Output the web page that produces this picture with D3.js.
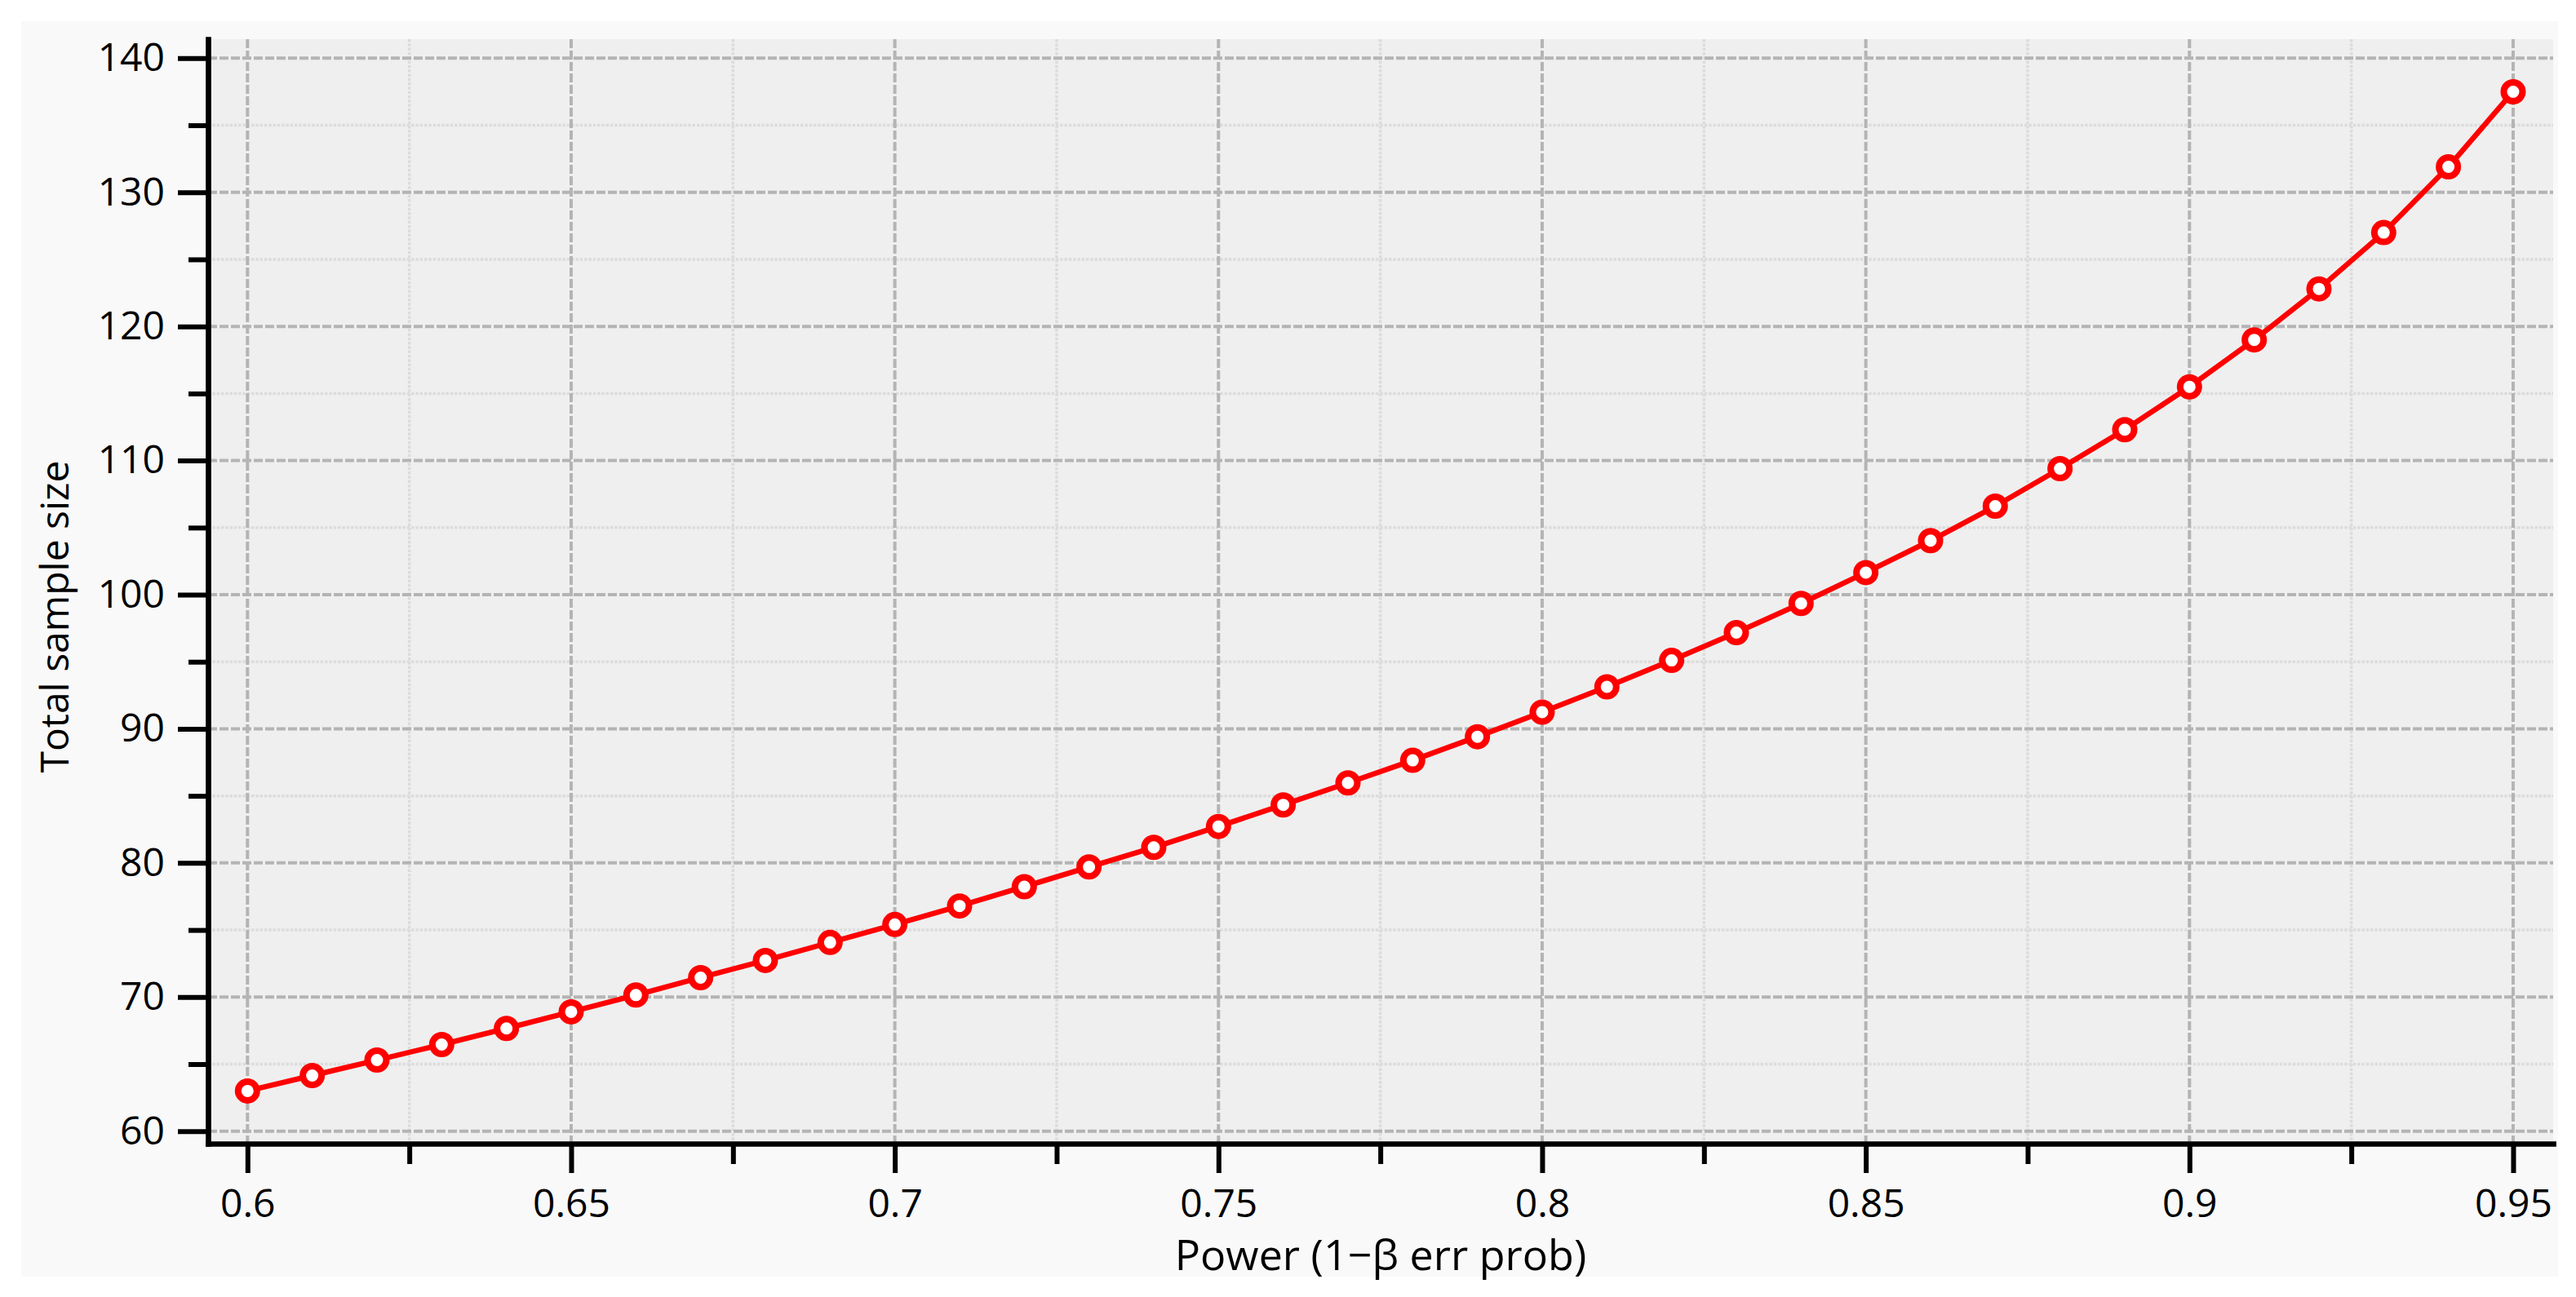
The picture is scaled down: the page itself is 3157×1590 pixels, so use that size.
<!DOCTYPE html>
<html>
<head>
<meta charset="utf-8">
<script src="https://cdn.jsdelivr.net/npm/d3@7"></script>
<style>
  body { margin: 0; background: #fff; }
</style>
</head>
<body>
<script>
// values
const power = [0.60, 0.61, 0.62, 0.63, 0.64, 0.65, 0.66, 0.67, 0.68, 0.69,
               0.70, 0.71, 0.72, 0.73, 0.74, 0.75, 0.76, 0.77, 0.78, 0.79,
               0.80, 0.81, 0.82, 0.83, 0.84, 0.85, 0.86, 0.87, 0.88, 0.89,
               0.90, 0.91, 0.92, 0.93, 0.94, 0.95];
const sampleSize = [63.0, 64.15, 65.3, 66.46, 67.66, 68.9, 70.15, 71.45, 72.73, 74.07,
                    75.41, 76.79, 78.23, 79.7, 81.16, 82.72, 84.33, 85.97, 87.65, 89.41,
                    91.24, 93.13, 95.1, 97.17, 99.35, 101.65, 104.03, 106.6, 109.4, 112.3,
                    115.5, 119.0, 122.8, 127.0, 131.9, 137.5];

const xMajorTicks = [0.6, 0.65, 0.7, 0.75, 0.8, 0.85, 0.9, 0.95];
const xMinorTicks = [0.625, 0.675, 0.725, 0.775, 0.825, 0.875, 0.925];
const yMajorTicks = [60, 70, 80, 90, 100, 110, 120, 130, 140];
const yMinorTicks = [65, 75, 85, 95, 105, 115, 125, 135];
const xTitle = "Power (1\u2212\u03b2 err prob)";
const yTitle = "Total sample size";

const width = 3157, height = 1590;
const margin = {top: 48, right: 28, bottom: 188, left: 255};
const fontFamily = '"Open Sans", "Noto Sans", sans-serif';

const svg = d3.select("body").append("svg")
  .attr("width", width)
  .attr("height", height)
  .attr("viewBox", [0, 0, width, height]);

// outer panel
svg.append("rect")
  .attr("x", 26).attr("y", 26)
  .attr("width", 3109).attr("height", 1539)
  .attr("fill", "#f9f9f9");

let x = d3.scaleLinear()
  .domain([0.59391, 0.95618])
  .range([margin.left, width - margin.right]);

let y = d3.scaleLinear()
  .domain([59.07, 141.42])
  .range([height - margin.bottom, margin.top]);

// plot background
svg.append("rect")
  .attr("x", margin.left).attr("y", margin.top)
  .attr("width", width - margin.right - margin.left)
  .attr("height", height - margin.bottom - margin.top)
  .attr("fill", "#efefef");

const grid = svg.append("g");

// minor grid (dotted)
grid.append("g").selectAll("line")
  .data(xMinorTicks)
  .join("line")
    .attr("x1", d => x(d)).attr("x2", d => x(d))
    .attr("y1", margin.top).attr("y2", height - margin.bottom)
    .attr("stroke", "#dcdcdc").attr("stroke-width", 3.5)
    .attr("stroke-dasharray", "3.5,1.8");

grid.append("g").selectAll("line")
  .data(yMinorTicks)
  .join("line")
    .attr("y1", d => y(d)).attr("y2", d => y(d))
    .attr("x1", margin.left).attr("x2", width - margin.right)
    .attr("stroke", "#dcdcdc").attr("stroke-width", 3.5)
    .attr("stroke-dasharray", "3.5,1.8");

// major grid (dashed)
grid.append("g").selectAll("line")
  .data(xMajorTicks)
  .join("line")
    .attr("x1", d => x(d)).attr("x2", d => x(d))
    .attr("y1", margin.top).attr("y2", height - margin.bottom)
    .attr("stroke", "#b4b4b4").attr("stroke-width", 4)
    .attr("stroke-dasharray", "11,3");

grid.append("g").selectAll("line")
  .data(yMajorTicks)
  .join("line")
    .attr("y1", d => y(d)).attr("y2", d => y(d))
    .attr("x1", margin.left).attr("x2", width - margin.right)
    .attr("stroke", "#b4b4b4").attr("stroke-width", 4)
    .attr("stroke-dasharray", "11,3");

// series
const line = d3.line()
  .x((d, i) => x(power[i]))
  .y(d => y(d));

svg.append("path")
  .datum(sampleSize)
  .attr("fill", "none")
  .attr("stroke", "#ff0000")
  .attr("stroke-width", 6.5)
  .attr("stroke-linejoin", "round")
  .attr("d", line);

svg.append("g")
  .selectAll("circle")
  .data(sampleSize)
  .join("circle")
    .attr("cx", (d, i) => x(power[i]))
    .attr("cy", d => y(d))
    .attr("r", 11.5)
    .attr("fill", "#fff")
    .attr("stroke", "#ff0000")
    .attr("stroke-width", 8);

// axes
let styleAxis = g => g
  .call(g => g.selectAll("text")
    .attr("font-family", fontFamily)
    .attr("font-size", 48)
    .attr("fill", "#000"))
  .call(g => g.selectAll(".tick line").attr("stroke-width", 6))
  .call(g => g.select(".domain").attr("stroke-width", 6.7).attr("stroke-linecap", "square"));

// minor ticks first
svg.append("g")
  .attr("transform", `translate(${margin.left},0)`)
  .call(d3.axisLeft(y).tickValues(yMinorTicks).tickSize(24).tickFormat(""))
  .call(g => g.select(".domain").remove())
  .call(g => g.selectAll(".tick line").attr("stroke-width", 6));

svg.append("g")
  .attr("transform", `translate(0,${height - margin.bottom})`)
  .call(d3.axisBottom(x).tickValues(xMinorTicks).tickSize(25).tickFormat(""))
  .call(g => g.select(".domain").remove())
  .call(g => g.selectAll(".tick line").attr("stroke-width", 6));

svg.append("g")
  .attr("transform", `translate(${margin.left},0)`)
  .call(d3.axisLeft(y).tickValues(yMajorTicks).tickSize(37).tickPadding(16).tickSizeOuter(0))
  .call(styleAxis);

svg.append("g")
  .attr("transform", `translate(0,${height - margin.bottom})`)
  .call(d3.axisBottom(x).tickValues(xMajorTicks).tickSize(36).tickPadding(20).tickSizeOuter(0)
    .tickFormat(d3.format("")))
  .call(styleAxis);

// titles
svg.append("text")
  .attr("x", (margin.left + width - margin.right) / 2)
  .attr("y", 1557)
  .attr("text-anchor", "middle")
  .attr("font-family", fontFamily)
  .attr("font-size", 52)
  .text(xTitle);

svg.append("text")
  .attr("transform", "translate(84,756) rotate(-90)")
  .attr("text-anchor", "middle")
  .attr("font-family", fontFamily)
  .attr("font-size", 48)
  .text(yTitle);
</script>
</body>
</html>
